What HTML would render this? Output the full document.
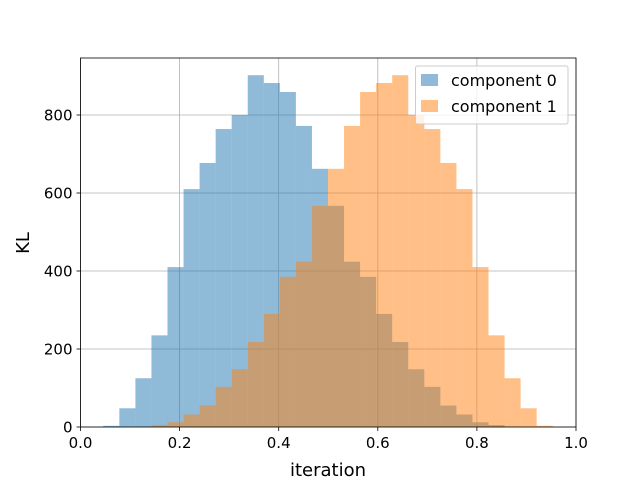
<!DOCTYPE html>
<html><head><meta charset="utf-8">
<style>
body{margin:0;background:#fff;}
svg{display:block;font-family:"DejaVu Sans","Liberation Sans",sans-serif;}
</style></head>
<body>
<svg id="chart" width="640" height="480" viewBox="0 0 640 480" xmlns="http://www.w3.org/2000/svg">
  <g id="grid"></g>
  <g id="bars0"></g>
  <g id="bars1"></g>
  <rect x="80.5" y="58" width="495.5" height="369" fill="none" stroke="#000" stroke-width="0.8"/>
  <g id="ticks"></g>
  <text x="328" y="476" text-anchor="middle" font-size="18">iteration</text>
  <text transform="translate(29,243) rotate(-90)" text-anchor="middle" font-size="18">KL</text>
  <g>
    <rect x="415.5" y="66" width="152.5" height="58" rx="2" fill="#fff" fill-opacity="0.8" stroke="#ccc"/>
    <rect x="421" y="74" width="17" height="12" fill="#1f77b4" fill-opacity="0.5"/>
    <text x="451" y="86" font-size="16">component 0</text>
    <rect x="421" y="100" width="17" height="12" fill="#ff7f0e" fill-opacity="0.5"/>
    <text x="451" y="112" font-size="16">component 1</text>
  </g>
</svg>
<script>
const binStart = 0.046;
const binEnd = 0.953;
const counts0 = [3,48,125,235,410,610,677,764,800,902,882,859,772,662,567,424,385,290,218,148,103,55,32,12,5,1,0,0];
const counts1 = [0,0,1,5,12,32,55,103,148,218,290,385,424,567,662,772,859,882,902,800,764,677,610,410,235,125,48,3];
const xTicks = [0.0,0.2,0.4,0.6,0.8,1.0];
const xTickLabels = ["0.0","0.2","0.4","0.6","0.8","1.0"];
const yTicks = [0,200,400,600,800];
const yTickLabels = ["0","200","400","600","800"];

const NS="http://www.w3.org/2000/svg";
const L=80.5,R=576,T=58,B=427;
function xs(v){return L+(R-L)*v;}
function ys(v){return B-v*(312/800);}
function mk(tag,attrs,parent){const e=document.createElementNS(NS,tag);for(const k in attrs)e.setAttribute(k,attrs[k]);parent.appendChild(e);return e;}
const grid=document.getElementById('grid'),ticks=document.getElementById('ticks');
xTicks.forEach((t,i)=>{
  const g=mk('line',{x1:xs(t),x2:xs(t),y1:T,y2:B,stroke:'#b0b0b0','stroke-width':0.8},grid);
  
  
  const tk=mk('line',{x1:xs(t),x2:xs(t),y1:B,y2:B+4,stroke:'#000','stroke-width':0.8},ticks);
  
  
  const tx=mk('text',{x:xs(t),y:B+21,'text-anchor':'middle','font-size':15},ticks);
  
  
  tx.textContent=xTickLabels[i];
});
yTicks.forEach((t,i)=>{
  const g=mk('line',{x1:L,x2:R,y1:ys(t),y2:ys(t),stroke:'#b0b0b0','stroke-width':0.8},grid);
  
  
  const tk=mk('line',{x1:L-4,x2:L,y1:ys(t),y2:ys(t),stroke:'#000','stroke-width':0.8},ticks);
  
  
  const tx=mk('text',{x:L-8,y:ys(t)+5.5,'text-anchor':'end','font-size':15},ticks);
  
  
  tx.textContent=yTickLabels[i];
});
function drawHist(counts,gid,color,name){
  const g=document.getElementById(gid);
  const w=(binEnd-binStart)/counts.length;
  counts.forEach((c,i)=>{
    if(c<=0)return;
    const x0=xs(binStart+i*w),x1=xs(binStart+(i+1)*w);
    const r=mk('rect',{x:x0,y:ys(c),width:x1-x0,height:ys(0)-ys(c),fill:color,'fill-opacity':0.5},g);
    
    
  });
}
drawHist(counts0,'bars0','#1f77b4','component-0-bar');
drawHist(counts1,'bars1','#ff7f0e','component-1-bar');
</script>
</body></html>
